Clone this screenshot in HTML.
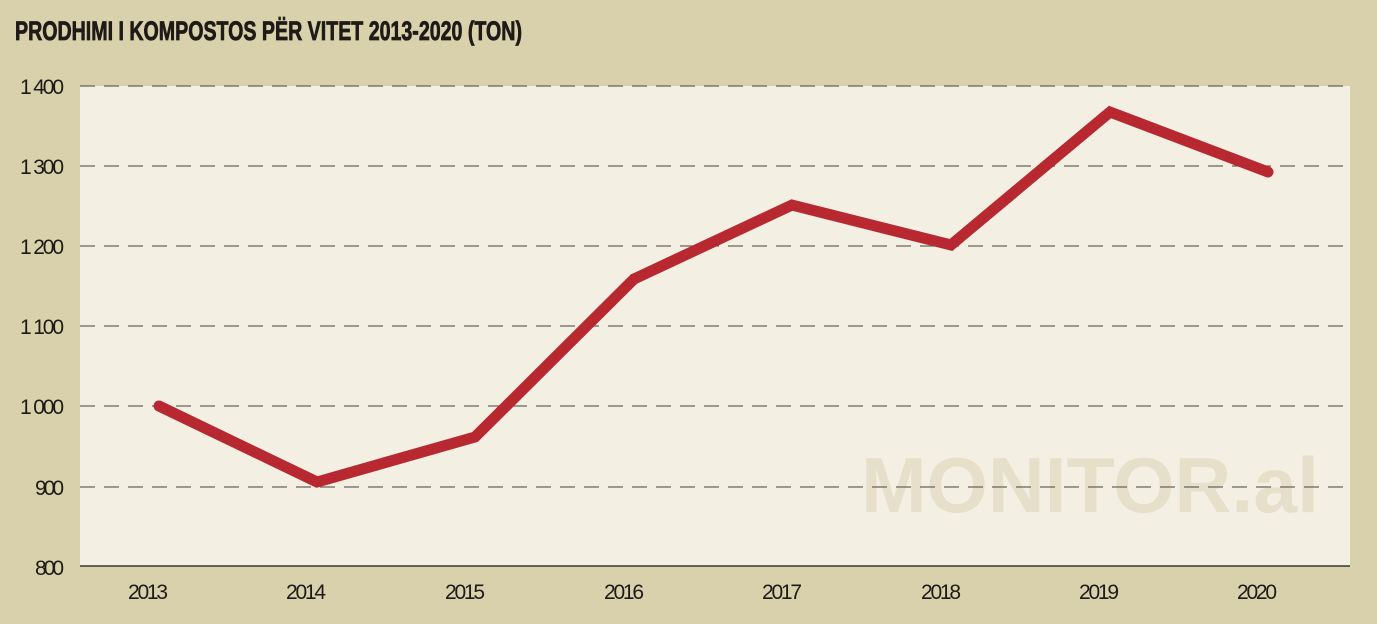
<!DOCTYPE html>
<html><head><style>
html,body{margin:0;padding:0;}
body{width:1377px;height:624px;background:#d9d0ac;overflow:hidden;}
</style></head><body>
<svg width="1377" height="624" xmlns="http://www.w3.org/2000/svg" style="position:absolute;left:0;top:0">
<rect x="0" y="0" width="1377" height="624" fill="#d9d0ac"/>
<text x="15" y="40" font-family="Liberation Sans, sans-serif" font-weight="bold" font-size="27" fill="#1e1a17" stroke="#1e1a17" stroke-width="0.8" textLength="507" lengthAdjust="spacingAndGlyphs">PRODHIMI I KOMPOSTOS PËR VITET 2013-2020 (TON)</text>
<rect x="80" y="86" width="1270" height="480" fill="#f3f0e3"/>
<text x="1090" y="512" text-anchor="middle" font-family="Liberation Sans, sans-serif" font-weight="bold" font-size="78" fill="#e6dfc9" textLength="458" lengthAdjust="spacingAndGlyphs">MONITOR.al</text>
<g stroke="#6a645c" stroke-width="1.3" stroke-dasharray="15 9">
<line x1="80" y1="86" x2="1350" y2="86"/>
<line x1="80" y1="166" x2="1350" y2="166"/>
<line x1="80" y1="246" x2="1350" y2="246"/>
<line x1="80" y1="326" x2="1350" y2="326"/>
<line x1="80" y1="406" x2="1350" y2="406"/>
<line x1="80" y1="487" x2="1350" y2="487"/>
</g>
<line x1="80" y1="566" x2="1350" y2="566" stroke="#3a3430" stroke-width="1.5"/>
<g font-family="Liberation Sans, sans-serif" font-size="21" fill="#1e1a17" lengthAdjust="spacingAndGlyphs">
<text x="20" y="94" textLength="44">1 400</text>
<text x="20" y="174" textLength="44">1 300</text>
<text x="20" y="254" textLength="44">1 200</text>
<text x="20" y="334" textLength="44">1 100</text>
<text x="20" y="414" textLength="44">1 000</text>
<text x="35" y="495" textLength="29">900</text>
<text x="35" y="575" textLength="29">800</text>
</g>
<g font-family="Liberation Sans, sans-serif" font-size="21" fill="#1e1a17" lengthAdjust="spacingAndGlyphs">
<text x="128" y="599" textLength="40">2013</text>
<text x="286" y="599" textLength="40">2014</text>
<text x="445" y="599" textLength="40">2015</text>
<text x="604" y="599" textLength="40">2016</text>
<text x="762" y="599" textLength="40">2017</text>
<text x="921" y="599" textLength="40">2018</text>
<text x="1079" y="599" textLength="40">2019</text>
<text x="1237" y="599" textLength="40">2020</text>
</g>
<polyline points="159,406 317,482 475,437 634,279 792,205 951,245 1110,112 1268,172" fill="none" stroke="#b82830" stroke-width="11" stroke-linejoin="miter" stroke-linecap="round"/>
</svg>
</body></html>
